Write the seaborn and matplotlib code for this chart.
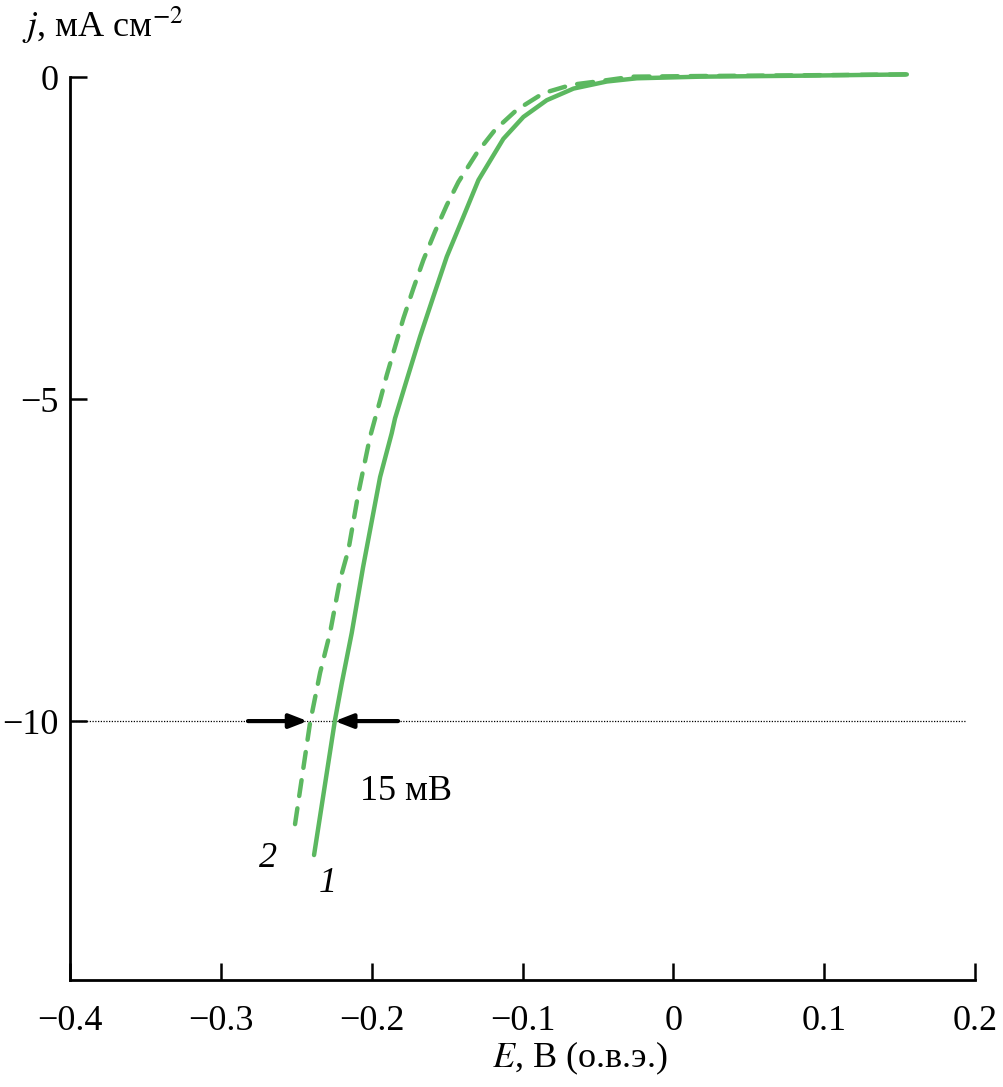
import matplotlib
matplotlib.use("Agg")
import matplotlib.pyplot as plt
import seaborn as sns
import pandas as pd

# Curve 1 (solid)
E1 = [-0.2382, -0.2243, -0.2198, -0.2132, -0.2057, -0.1944, -0.1867, -0.1845,
      -0.1767, -0.1679, -0.1591, -0.1502, -0.1392, -0.1292, -0.1127,
      -0.0994, -0.0839, -0.0662, -0.0441, -0.0242, 0.0178, 0.0841, 0.1548]
J1 = [-12.08, -9.98, -9.41, -8.63, -7.61, -6.21, -5.53, -5.30,
      -4.70, -4.03, -3.41, -2.79, -2.17, -1.60, -0.96,
      -0.62, -0.36, -0.18, -0.07, -0.02, 0.005, 0.02, 0.04]
# Curve 2 (dashed)
E2 = [-0.2508, -0.2408, -0.2342, -0.2276, -0.2210, -0.2154, -0.2088, -0.2011,
      -0.1944, -0.1900, -0.1845, -0.1790, -0.1723, -0.1657, -0.1580, -0.1502,
      -0.1425, -0.1303, -0.1182, -0.1038, -0.0861, -0.0673, -0.0474, -0.0275,
      0.0178, 0.0841, 0.1537]
J2 = [-11.60, -10.02, -9.25, -8.63, -7.81, -7.34, -6.46, -5.59,
      -5.02, -4.63, -4.19, -3.75, -3.28, -2.84, -2.40, -1.99,
      -1.63, -1.18, -0.82, -0.51, -0.25, -0.12, -0.06, 0.005,
      0.015, 0.026, 0.04]

x_ticks = [-0.4, -0.3, -0.2, -0.1, 0, 0.1, 0.2]
x_ticklabels = ["\u22120.4", "\u22120.3", "\u22120.2", "\u22120.1", "0", "0.1", "0.2"]
y_ticks = [0, -5, -10]
y_ticklabels = ["0", "\u22125", "\u221210"]
ref_level = -10
arrow_left = (-0.282, -0.2425)
arrow_right = (-0.1825, -0.2245)

sns.set_theme(style="white")
plt.rcParams['font.family'] = ['Liberation Serif', 'DejaVu Serif']
plt.rcParams['mathtext.fontset'] = 'stix'
plt.rcParams['text.color'] = 'black'
plt.rcParams['xtick.color'] = 'black'
plt.rcParams['ytick.color'] = 'black'

fig = plt.figure(figsize=(10.04, 10.87), dpi=100)
ax = fig.add_axes([70/1004, 1-980/1087, 905/1004, 903/1087])

green = '#5cb860'
df1 = pd.DataFrame({'E': E1, 'j': J1})
df2 = pd.DataFrame({'E': E2, 'j': J2})
sns.lineplot(data=df1, x='E', y='j', sort=False, estimator=None, ax=ax,
             color=green, lw=3.2, clip_on=False)
ax.lines[-1].set_solid_capstyle('round')
ax.lines[-1].set_solid_joinstyle('round')
sns.lineplot(data=df2, x='E', y='j', sort=False, estimator=None, ax=ax,
             color=green, lw=3.2, clip_on=False)
ax.lines[-1].set_dashes([3.6, 2.8])
ax.lines[-1].set_dash_capstyle('round')
ax.lines[-1].set_dash_joinstyle('round')

ax.plot([-0.4, 0.1935], [ref_level, ref_level], color='black', lw=0.9,
        ls=(0, (1, 1.2)), zorder=1)

for a in (arrow_left, arrow_right):
    ax.annotate('', xy=(a[1], ref_level), xytext=(a[0], ref_level),
                arrowprops=dict(arrowstyle='-|>,head_length=0.9,head_width=0.35',
                                color='black', lw=3, shrinkA=0, shrinkB=0))

ax.text(-0.1775, -11.1, '15 мВ', fontsize=26, ha='center', va='center')
ax.text(-0.2687, -12.13, '2', fontsize=26, style='italic', ha='center', va='center')
ax.text(-0.2289, -12.52, '1', fontsize=26, style='italic', ha='center', va='center')

ax.set_xlim(-0.4, 0.2)
ax.set_ylim(-14.02, 0)
ax.set_xticks(x_ticks)
ax.set_xticklabels(x_ticklabels)
ax.set_yticks(y_ticks)
ax.set_yticklabels(y_ticklabels)
ax.set_xlabel('')
ax.set_ylabel('')
for s in ['top', 'right']:
    ax.spines[s].set_visible(False)
for s in ['left', 'bottom']:
    ax.spines[s].set_linewidth(2)
    ax.spines[s].set_color('black')
ax.tick_params(axis='both', which='major', direction='in', length=12, width=1.8,
               color='black', labelsize=26, labelcolor='black',
               bottom=True, left=True, top=False, right=False)
ax.tick_params(axis='x', pad=18)
ax.tick_params(axis='y', pad=8)

fig.text(580/1004, 1-1058/1087, r'$E$, В (о.в.э.)', fontsize=26, ha='center', va='center')
fig.text(22/1004, 1-25/1087, r'$j$, мА см$^{-2}$', fontsize=26, ha='left', va='center')

fig.savefig('out.png', dpi=100)
